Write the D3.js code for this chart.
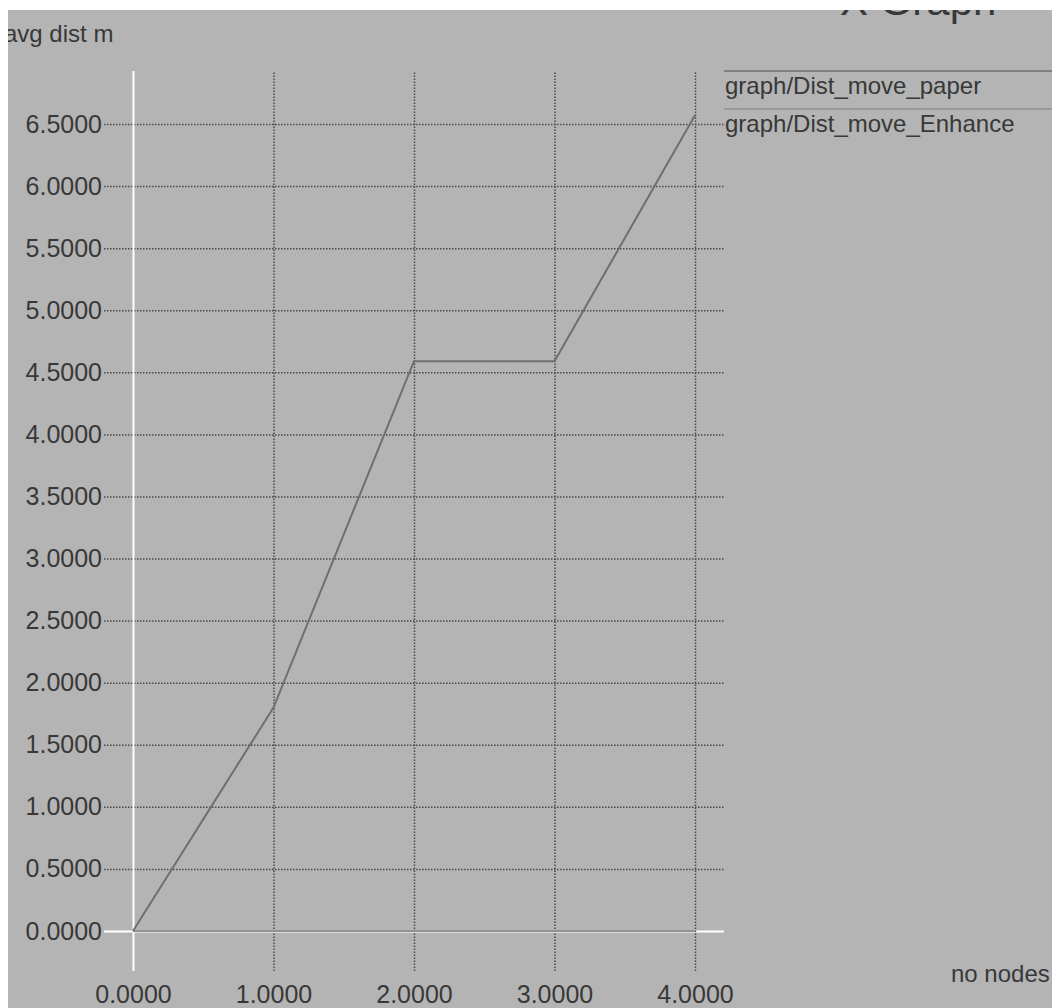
<!DOCTYPE html>
<html>
<head>
<meta charset="utf-8">
<script src="https://cdn.jsdelivr.net/npm/d3@7"></script>
<style>
  body { margin: 0; background: #fff; }
  text { font-family: "Liberation Sans", Arial, sans-serif; fill: #383838; }
</style>
</head>
<body>
<svg id="graph"></svg>
<script>
// Data
const xValues = [0, 1, 2, 3, 4];
const paperValues = [0, 1.8, 4.59, 4.59, 6.57];
const enhanceValues = [0, 0, 0, 0, 0];
const xTicks = [0, 1, 2, 3, 4];
const yTicks = [0, 0.5, 1, 1.5, 2, 2.5, 3, 3.5, 4, 4.5, 5, 5.5, 6, 6.5];
const seriesNames = ["graph/Dist_move_paper", "graph/Dist_move_Enhance"];
const seriesColors = ["#6f6f6f", "#929292"];

const width = 1052, height = 1008;

const svg = d3.select("#graph")
  .attr("width", width)
  .attr("height", height);

// grey plotting window
svg.append("rect")
  .attr("x", 0).attr("y", 0)
  .attr("width", width).attr("height", height)
  .attr("fill", "#b4b4b4");

const xScale = d3.scaleLinear().domain([0, 4]).range([133, 695]);
const yScale = d3.scaleLinear().domain([0, 6.5]).range([931, 124]);

const gridLeft = 104, gridRight = 724, gridTop = 71, gridBottom = 971;

// y axis with dotted horizontal grid
const yAxis = svg.append("g")
  .attr("transform", `translate(${gridLeft},0)`)
  .call(d3.axisLeft(yScale)
    .tickValues(yTicks)
    .tickSize(-(gridRight - gridLeft))
    .tickPadding(2)
    .tickFormat(d3.format(".4f")));
yAxis.select(".domain").remove();
yAxis.selectAll("line")
  .attr("stroke", d => d === 0 ? "#ffffff" : "#4a4a4a")
  .attr("stroke-width", d => d === 0 ? 2 : 1.5)
  .attr("stroke-dasharray", d => d === 0 ? null : "1.5,1.5");
yAxis.selectAll("text")
  .style("font-size", "25px")
  .attr("fill", "#383838");

// x axis with dotted vertical grid
const xAxis = svg.append("g")
  .attr("transform", `translate(0,${gridBottom})`)
  .call(d3.axisBottom(xScale)
    .tickValues(xTicks)
    .tickSize(-(gridBottom - gridTop))
    .tickPadding(14)
    .tickFormat(d3.format(".4f")));
xAxis.select(".domain").remove();
xAxis.selectAll("line")
  .attr("stroke", d => d === 0 ? "#ffffff" : "#4a4a4a")
  .attr("stroke-width", d => d === 0 ? 2 : 1.5)
  .attr("stroke-dasharray", d => d === 0 ? null : "1.5,1.5");
xAxis.selectAll("text")
  .style("font-size", "25px")
  .attr("fill", "#383838");

// series lines
const line = d3.line()
  .x((d, i) => xScale(xValues[i]))
  .y(d => yScale(d));

[enhanceValues, paperValues].forEach((vals, k) => {
  svg.append("path")
    .datum(vals)
    .attr("d", line)
    .attr("fill", "none")
    .attr("stroke", k === 0 ? seriesColors[1] : seriesColors[0])
    .attr("stroke-width", 2);
});

// legend: a line above each name
const legendY = [71, 109];
seriesNames.forEach((name, i) => {
  svg.append("line")
    .attr("x1", 724).attr("x2", width)
    .attr("y1", legendY[i]).attr("y2", legendY[i])
    .attr("stroke", seriesColors[i])
    .attr("stroke-width", 1.5);
  svg.append("text")
    .attr("x", 725)
    .attr("y", legendY[i] + 23)
    .style("font-size", "24px")
    .text(name);
});

// axis unit label
svg.append("text")
  .attr("x", 4).attr("y", 42)
  .style("font-size", "24px")
  .text("avg dist m");

svg.append("text")
  .attr("x", 951).attr("y", 982)
  .style("font-size", "24px")
  .text("no nodes");

// title, mostly cut off by the top edge
svg.append("text")
  .attr("x", 840).attr("y", 15)
  .style("font-size", "42px")
  .attr("fill", "#2c2c2c")
  .text("X Graph");

// white border (screenshot crop)
svg.append("rect")
  .attr("x", 0).attr("y", 0)
  .attr("width", width).attr("height", 10)
  .attr("fill", "#ffffff");
svg.append("rect")
  .attr("x", 0).attr("y", 0)
  .attr("width", 8).attr("height", height)
  .attr("fill", "#ffffff");
</script>
</body>
</html>
